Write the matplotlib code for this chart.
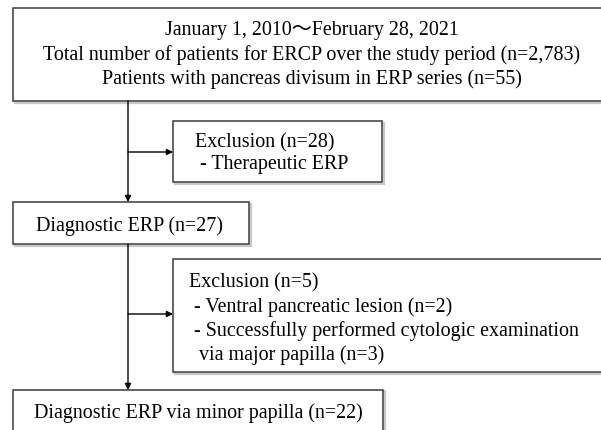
import matplotlib
matplotlib.use("Agg")
from matplotlib import pyplot as plt
from matplotlib.patches import Rectangle

plt.rcParams['font.family'] = ['Liberation Serif', 'Noto Sans CJK JP', 'DejaVu Sans']

# flowchart content
study_period = "January 1, 2010～February 28, 2021"
n_total = "2,783"
n_pd = 55
n_therapeutic = 28
n_diagnostic = 27
n_excl2 = 5
n_ventral = 2
n_major = 3
n_minor = 22

top_lines = [study_period,
             "Total number of patients for ERCP over the study period (n=%s)" % n_total,
             "Patients with pancreas divisum in ERP series (n=%d)" % n_pd]
excl1_lines = ["Exclusion (n=%d)" % n_therapeutic, " - Therapeutic ERP"]
diag_text = "Diagnostic ERP (n=%d)" % n_diagnostic
excl2_lines = ["Exclusion (n=%d)" % n_excl2,
               " - Ventral pancreatic lesion (n=%d)" % n_ventral,
               " - Successfully performed cytologic examination",
               "  via major papilla (n=%d)" % n_major]
final_text = "Diagnostic ERP via minor papilla (n=%d)" % n_minor

FS = 14.4
fig = plt.figure(figsize=(6.01, 4.31), dpi=100)
ax = fig.add_axes([0, 0, 1, 1])
ax.set_xlim(0, 601)
ax.set_ylim(431, 0)
ax.axis("off")


def box(x0, y0, x1, y1):
    # soft shadow then the box itself
    ax.add_patch(Rectangle((x0 + 1.5, y0 + 1.5), x1 - x0, y1 - y0, fill=False,
                           ec="#c8c8c8", lw=1.6, zorder=1))
    ax.add_patch(Rectangle((x0, y0), x1 - x0, y1 - y0, fc="white",
                           ec="#3a3a3a", lw=1.1, zorder=2))


def arrow(x0, y0, x1, y1):
    ax.annotate("", xy=(x1, y1), xytext=(x0, y0),
                arrowprops=dict(arrowstyle="-|>", color="black", lw=1.0,
                                mutation_scale=9, shrinkA=0, shrinkB=0), zorder=3)


# boxes
box(13, 9, 611, 102)
box(173, 122, 382, 183)
box(13, 203, 249, 245)
box(173, 260, 612, 373)
box(13, 391, 383, 445)

# connectors
arrow(128, 102, 128, 203)
arrow(128, 153, 173, 153)
arrow(128, 245, 128, 391)
arrow(128, 315, 173, 315)

# texts
for i, s in enumerate(top_lines):
    ax.text(312, 31 + 24 * i, s, ha="center", va="center", fontsize=FS, zorder=4)
for i, s in enumerate(excl1_lines):
    ax.text(195, 143 + 22 * i, s, ha="left", va="center", fontsize=FS, zorder=4)
ax.text(129, 226, diag_text, ha="center", va="center", fontsize=FS, zorder=4)
for i, s in enumerate(excl2_lines):
    ax.text(189, 283 + 24 * i, s, ha="left", va="center", fontsize=FS, zorder=4)
ax.text(198, 413, final_text, ha="center", va="center", fontsize=FS, zorder=4)

plt.savefig("out.png", dpi=100)
